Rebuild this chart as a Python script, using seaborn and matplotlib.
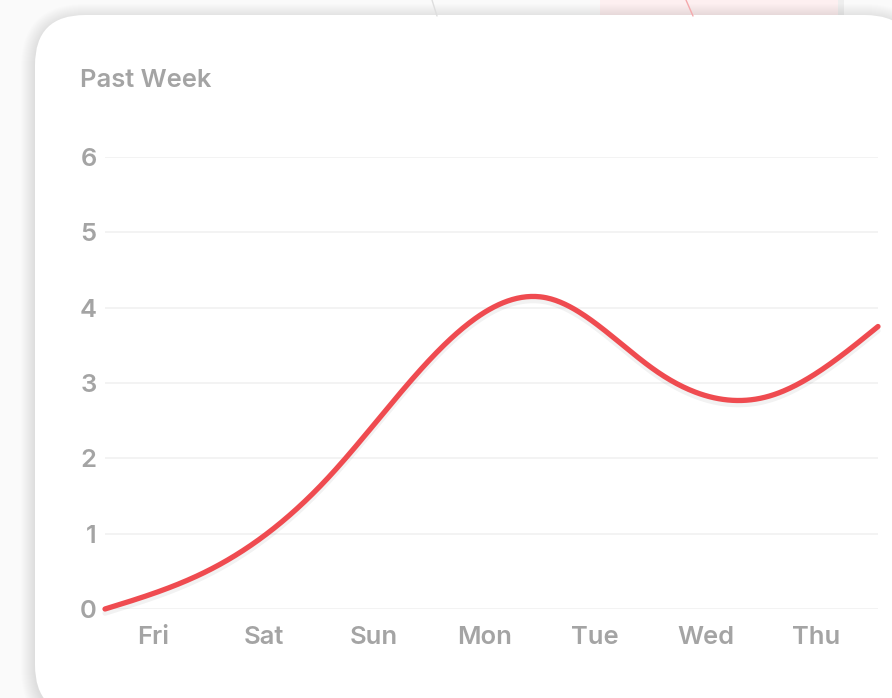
import matplotlib
matplotlib.use("Agg")

import matplotlib.dates as mdates
import matplotlib.patheffects as pe
import matplotlib.pyplot as plt
import numpy as np
import pandas as pd
import seaborn as sns
from matplotlib.patches import FancyBboxPatch, Rectangle

# Daily readings for the past week (one point per day, early afternoon).
days = pd.date_range("2024-01-04 13:30", periods=8, freq="D")
values = [0.0, 0.56, 1.71, 3.40, 4.13, 3.15, 2.82, 3.75]
y_ticks = [0, 1, 2, 3, 4, 5, 6]
title = "Past Week"

LINE_RED = "#ef4b50"
TEXT_GRAY = "#a4a4a4"
GRID_GRAY = "#f0f0f0"


def natural_spline(x, y, num=500):
    """Smooth curve through the points (natural cubic spline)."""
    x = np.asarray(x, dtype=float)
    y = np.asarray(y, dtype=float)
    n = len(x)
    h = np.diff(x)
    # Solve for the second derivatives at each knot.
    a = np.zeros((n, n))
    b = np.zeros(n)
    a[0, 0] = a[-1, -1] = 1.0
    for i in range(1, n - 1):
        a[i, i - 1] = h[i - 1]
        a[i, i] = 2 * (h[i - 1] + h[i])
        a[i, i + 1] = h[i]
        b[i] = 6 * ((y[i + 1] - y[i]) / h[i] - (y[i] - y[i - 1]) / h[i - 1])
    m = np.linalg.solve(a, b)

    xs = np.linspace(x[0], x[-1], num)
    idx = np.clip(np.searchsorted(x, xs) - 1, 0, n - 2)
    x0, x1 = x[idx], x[idx + 1]
    y0, y1 = y[idx], y[idx + 1]
    m0, m1 = m[idx], m[idx + 1]
    hh = x1 - x0
    t0 = x1 - xs
    t1 = xs - x0
    ys = (m0 * t0**3 + m1 * t1**3) / (6 * hh) \
        + (y0 / hh - m0 * hh / 6) * t0 + (y1 / hh - m1 * hh / 6) * t1
    return xs, ys


sns.set_theme(style="white")
plt.rcParams["font.family"] = ["Inter", "DejaVu Sans"]
plt.rcParams["font.weight"] = "semibold"

fig = plt.figure(figsize=(8.92, 6.98), dpi=100)
fig.patch.set_facecolor("#fafafa")

# Background layer in pixel units: card, its shadow and bits of the page behind.
bg = fig.add_axes([0, 0, 1, 1])
bg.set_xlim(0, 892)
bg.set_ylim(698, 0)
bg.axis("off")

bg.add_patch(Rectangle((600, -5), 240, 25, facecolor="#fdeff0", edgecolor="none"))
bg.plot([686, 693], [0, 16], color="#f4a9ac", lw=1.0)
bg.plot([432, 437], [0, 16], color="#dedede", lw=1.0)
bg.add_patch(Rectangle((838, -5), 6, 25, facecolor="#eeeeee", edgecolor="none"))

for s in range(14, 0, -1):
    bg.add_patch(FancyBboxPatch(
        (35 - s, 15 - s + 3), 880 + 2 * s, 700 + 2 * s,
        boxstyle=f"round,pad=0,rounding_size={50 + s}",
        facecolor="black", edgecolor="none", alpha=0.006,
    ))
bg.add_patch(FancyBboxPatch(
    (35, 15), 880, 700,
    boxstyle="round,pad=0,rounding_size=50",
    facecolor="white", edgecolor="none",
))

fig.text(80 / 892, 1 - 87 / 698, title, fontsize=18.4, color=TEXT_GRAY,
         va="baseline", ha="left")

# Chart area.
ax = fig.add_axes([105 / 892, 1 - 609 / 698, 773 / 892, 452 / 698])
ax.set_facecolor("none")

x_num = mdates.date2num(days)
xs, ys = natural_spline(x_num, values)
curve = pd.DataFrame({"x": xs, "y": ys})

sns.lineplot(data=curve, x="x", y="y", ax=ax, color=LINE_RED, linewidth=3.8,
             sort=False, estimator=None)
for line in ax.lines:
    line.set_clip_on(False)
    line.set_solid_capstyle("round")
    line.set_path_effects([
        pe.SimpleLineShadow(offset=(0, -3), shadow_color="black", alpha=0.05),
        pe.Normal(),
    ])

ax.set_xlim(x_num[0], x_num[-1])
ax.set_ylim(0, 6)
ax.set_yticks(y_ticks)
ax.xaxis.set_major_locator(mdates.DayLocator())
ax.xaxis.set_major_formatter(mdates.DateFormatter("%a"))

ax.yaxis.grid(True, color=GRID_GRAY, linewidth=1.1)
ax.xaxis.grid(False)
ax.set_axisbelow(True)
for spine in ax.spines.values():
    spine.set_visible(False)
ax.tick_params(axis="both", length=0, labelsize=18.4, labelcolor=TEXT_GRAY)
ax.tick_params(axis="y", pad=6)
ax.tick_params(axis="x", pad=12)
ax.set_xlabel("")
ax.set_ylabel("")

fig.savefig("out.png", dpi=100)
